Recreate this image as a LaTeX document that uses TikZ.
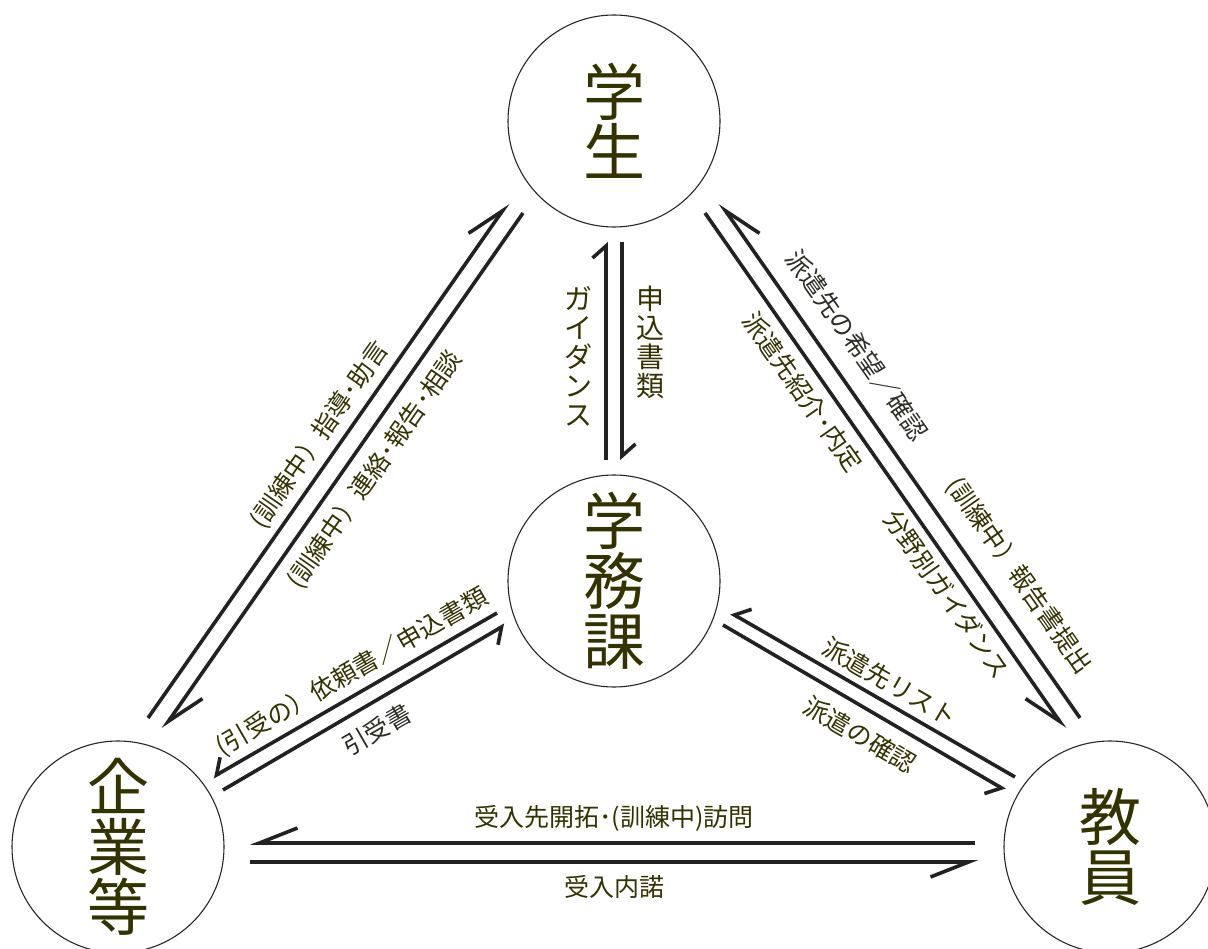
\documentclass[tikz,border=0pt]{standalone}
\usepackage{fontspec}
\newfontfamily\jp{Noto Sans CJK JP}
\usetikzlibrary{arrows.meta}
\definecolor{txtolive}{RGB}{51,51,0}
\definecolor{txtgray}{RGB}{45,45,40}
\definecolor{lineg}{RGB}{34,34,34}

\begin{document}
\begin{tikzpicture}[x=1pt,y=-1pt,
		role/.style={circle,draw=black!85,line width=1.1pt,minimum size=212pt,inner sep=0pt,
			align=center,text=txtolive,font=\jp\fontsize{62}{60}\selectfont},
		lbl/.style={text=txtolive,inner sep=0pt,font=\jp\fontsize{25}{27}\selectfont},
		vlbl/.style={lbl,align=center,font=\jp\fontsize{28}{29}\selectfont},
		flow/.style={draw=lineg,line width=3.6pt},
		longL/.style={flow,-{Straight Barb[harpoon,length=38pt,width=30pt]}},
		longR/.style={flow,-{Straight Barb[harpoon,swap,length=38pt,width=30pt]}},
		shortL/.style={flow,-{Straight Barb[harpoon,length=12pt,width=27pt]}},
		shortR/.style={flow,-{Straight Barb[harpoon,swap,length=12pt,width=27pt]}}]
	\fill[white] (0,0) rectangle (1208,949);
	\useasboundingbox (0,0) rectangle (1208,949);
	% roles
	\node[role] (stu) at (614,121) {学\\生};
	\node[role] (gak) at (614,581) {学\\務\\課};
	\node[role] (com) at (118,847) {企\\業\\等};
	\node[role] (tea) at (1110,847) {教\\員};
	% student <-> office
	\draw[shortL] ([shift={(-8,-121)}]gak.center) -- ([shift={(-8,121)}]stu.center);
	\draw[shortL] ([shift={(8,121)}]stu.center) -- ([shift={(8,-121)}]gak.center);
	\node[vlbl] (guide) at (578,356) {ガ\\イ\\ダ\\ン\\ス};
	\node[vlbl] (apply) at (650,342) {申\\込\\書\\類};
	% student <-> company
	\draw[longL] ([shift={(30,-129)}]com.center) -- ([shift={(-106,82)}]stu.center);
	\draw[longL] ([shift={(-91,92)}]stu.center) -- ([shift={(45,-118)}]com.center);
	\node[lbl,rotate=55] (advice) at (320,435) {(訓練中）指導･助言};
	\node[lbl,rotate=55] (report) at (375,470) {(訓練中）連絡･報告･相談};
	% student <-> teacher
	\draw[longR] ([shift={(-30,-129)}]tea.center) -- ([shift={(106,82)}]stu.center);
	\draw[longR] ([shift={(91,92)}]stu.center) -- ([shift={(-45,-118)}]tea.center);
	\node[lbl,rotate=-55,text=txtgray] (wish) at (857,345) {派遣先の希望／確認};
	\node[lbl,rotate=-55] (intro) at (803,392) {派遣先紹介･内定};
	\node[lbl,rotate=-55] (trep) at (1019,576) {(訓練中）報告書提出};
	\node[lbl,rotate=-55] (field) at (947,594) {分野別ガイダンス};
	% office <-> company
	\draw[shortR] ([shift={(-117,32)}]gak.center) -- ([shift={(95,-70)}]com.center);
	\draw[shortR] ([shift={(105,-57)}]com.center) -- ([shift={(-109,44)}]gak.center);
	\node[lbl,rotate=30] (req) at (352,672) {(引受の）依頼書／申込書類};
	\node[lbl,rotate=30,text=txtgray] (accept) at (377,730) {引受書};
	% office <-> teacher
	\draw[shortR] ([shift={(-95,-70)}]tea.center) -- ([shift={(117,32)}]gak.center);
	\draw[shortR] ([shift={(109,44)}]gak.center) -- ([shift={(-105,-57)}]tea.center);
	\node[lbl,rotate=-30] (list) at (890,682) {派遣先リスト};
	\node[lbl,rotate=-30] (check) at (860,735) {派遣の確認};
	% company <-> teacher
	\draw[longR] ([shift={(-135,-4)}]tea.center) -- ([shift={(132,-4)}]com.center);
	\draw[longR] ([shift={(132,15)}]com.center) -- ([shift={(-132,15)}]tea.center);
	\node[lbl] (visit) at (614,818) {受入先開拓･(訓練中)訪問};
	\node[lbl] (consent) at (614,887) {受入内諾};
\end{tikzpicture}
\end{document}
